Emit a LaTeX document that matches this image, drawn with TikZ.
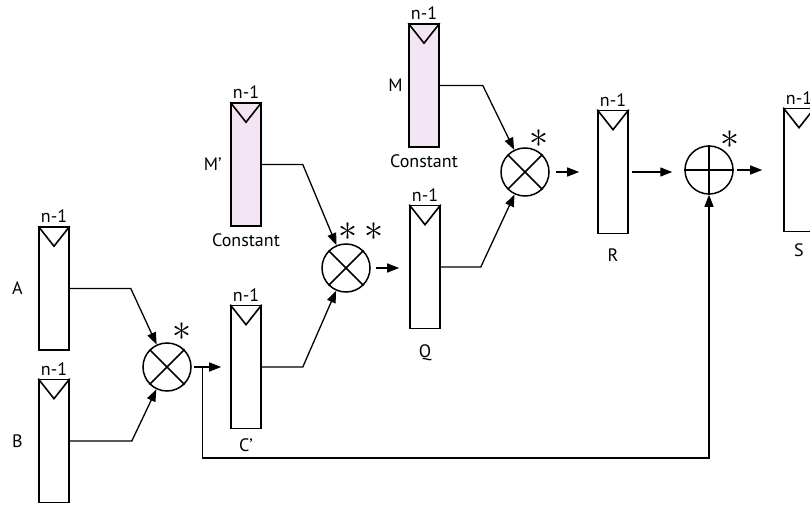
\documentclass[tikz,border=0pt]{standalone}
\usepackage{fontspec}
\setmainfont{PT Sans}
\usetikzlibrary{arrows.meta, calc, positioning}
\definecolor{constpink}{RGB}{243,229,244}

\begin{document}
\begin{tikzpicture}[x=1pt, y=-1pt, font=\fontsize{18}{21}\selectfont,
    regbox/.style={draw, line width=1.6pt, minimum width=30pt, minimum height=123pt,
        inner sep=0pt, label={[label distance=0pt]above:n-1}},
    constbox/.style={regbox, fill=constpink},
    mult/.style={draw, circle, line width=1.5pt, minimum size=48pt, inner sep=0pt},
    flow/.style={line width=1.3pt, -{Triangle[length=12pt, width=9pt]}},
    starmark/.style={inner sep=0pt}]
    \useasboundingbox (0,0) rectangle (810,505);
    \clip (0,0) rectangle (810,505);

    % registers
    \node[regbox, label={[label distance=12pt]left:A}] (A) at (54,288.5) {};
    \node[regbox, label={[label distance=12pt]left:B}] (B) at (54,441) {};
    \node[constbox, label={[label distance=5pt]left:M’},
        label={[label distance=3pt]below:Constant}] (Mp) at (246,164.5) {};
    \node[regbox, label={[label distance=6pt]below:C’}] (Cp) at (246,367) {};
    \node[constbox, label={[label distance=2pt]left:M},
        label={[label distance=3pt]below:Constant}] (M) at (424,85.5) {};
    \node[regbox, label={[label distance=12pt]below:Q}] (Q) at (425,267) {};
    \node[regbox, label={[label distance=11pt]below:R}] (R) at (613,172) {};
    \node[regbox, label={[label distance=8pt]below:S}] (S) at (799,170) {};

    % pointer marks
    \foreach \r in {A,B,Mp,Cp,M,Q,R,S}
        \draw[line width=1.6pt] (\r.north west) -- ([yshift=-20pt]\r.north) -- (\r.north east);

    % multipliers and adder
    \node[mult] (m1) at (167,367) {};
    \node[mult] (m2) at (346,268) {};
    \node[mult] (m3) at (525,172) {};
    \node[mult] (p) at (709,170) {};
    \foreach \c in {m1,m2,m3} {
        \draw[line width=1.5pt] (\c.north west) -- (\c.south east);
        \draw[line width=1.5pt] (\c.north east) -- (\c.south west);
    }
    \draw[line width=1.5pt] (p.north) -- (p.south);
    \draw[line width=1.5pt] (p.west) -- (p.east);

    % stars
    \node[starmark] (m1star) at ([shift={(15,-35)}]m1.center) {\scalebox{2.2}{$\ast$}};
    \node[starmark] (m2star) at ([shift={(15,-36)}]m2.center) {\scalebox{2.2}{$\ast\,\ast$}};
    \node[starmark] (m3star) at ([shift={(14,-33)}]m3.center) {\scalebox{2.2}{$\ast$}};
    \node[starmark] (pstar) at ([shift={(21,-30)}]p.center) {\scalebox{2.2}{$\ast$}};

    % connections
    \draw[flow] (A.east) -- ++(61,0) -- (m1);
    \draw[flow] (B.east) -- ++(62,0) -- (m1);
    \draw[flow, shorten <=2pt, shorten >=9pt] (m1.east) -- (Cp.west);
    \coordinate (tap) at ([xshift=11pt]m1.east);
    \draw[flow] (tap) -- ++(0,91) -| (p);
    \draw[flow] (Cp.east) -- ++(41,0) -- (m2);
    \draw[flow] (Mp.east) -- ++(41,0) -- (m2);
    \draw[flow, shorten <=5pt, shorten >=10pt] (m2.east) -- (m2.east -| Q.west);
    \draw[flow] (Q.east) -- ++(40,0) -- (m3);
    \draw[flow] (M.east) -- ++(43,0) -- (m3);
    \draw[flow, shorten <=6pt, shorten >=18pt] (m3.east) -- (R.west);
    \draw[flow, shorten <=3pt, shorten >=12pt] (R.east) -- (R.east -| p.west);
    \draw[flow, shorten <=3pt, shorten >=21pt] (p.east) -- (S.west);
\end{tikzpicture}
\end{document}
